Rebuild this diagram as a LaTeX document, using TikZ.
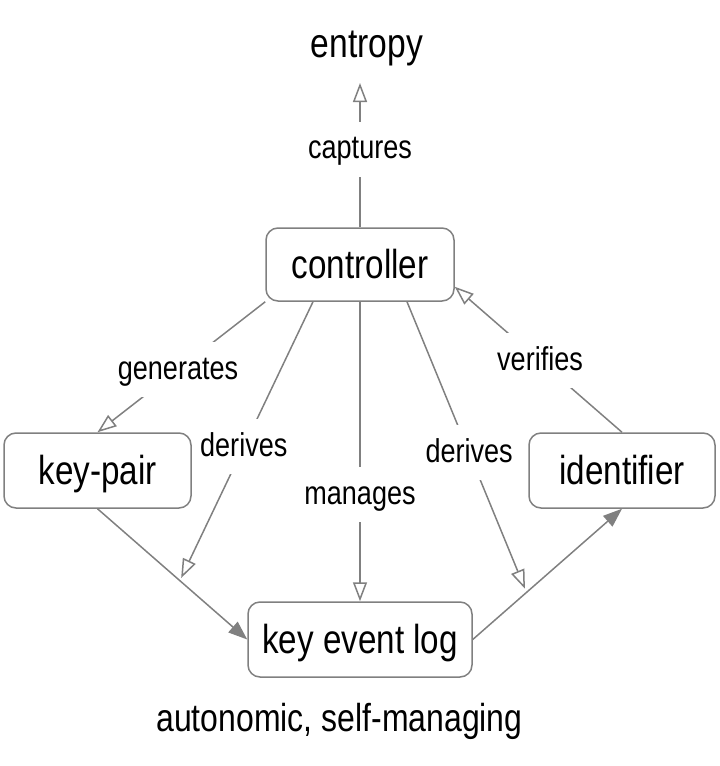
\documentclass[tikz,border=0pt]{standalone}
\usepackage{fontspec}
\setmainfont{Liberation Sans}
\newfontfamily\narrowsans[FakeStretch=0.82]{Liberation Sans}
\usetikzlibrary{arrows.meta}
\definecolor{edgegray}{RGB}{128,128,128}
\begin{document}
\begin{tikzpicture}[x=1pt,y=-1pt,
  box/.style={draw=edgegray, line width=1.5pt, rounded corners=12pt,
    font=\narrowsans\fontsize{40.5}{46}\selectfont, inner sep=0pt,
    text height=34pt, text depth=6pt},
  lbl/.style={fill=white, font=\narrowsans\fontsize{33}{38}\selectfont,
    inner xsep=6pt, inner ysep=12pt, text height=25pt, text depth=6pt},
  conn/.style={draw=edgegray, line width=1.5pt},
  opentip/.style={conn, -{Triangle[open, length=19pt, width=14pt, fill=white]}},
  filltip/.style={conn, -{Triangle[length=19pt, width=14pt, fill=edgegray]}}]
\useasboundingbox (0,0) rectangle (720,766);

\node[box, minimum width=188pt, minimum height=73pt] (ctrl) at (360,264.5) {controller};
\node[box, minimum width=187pt, minimum height=75pt] (kp) at (97.5,470.5) {key-pair};
\node[box, minimum width=186pt, minimum height=75pt] (id) at (622,470.5) {identifier};
\node[box, minimum width=224pt, minimum height=75pt] (kel) at (360,639.5) {key event log};
\node[font=\narrowsans\fontsize{41}{46}\selectfont, inner sep=0pt, outer ysep=17pt, anchor=base] (entropy) at (367,57.5) {entropy};
\node[font=\narrowsans\fontsize{39}{44}\selectfont, inner sep=0pt, anchor=base] (caption) at (339.5,731.5) {autonomic, self-managing};

\path (kp.south) -- (kel.west) coordinate[pos=0.55] (ldtip);
\path (kel.east) -- (id.south) coordinate[pos=0.36] (rdtip);

\draw[opentip] (ctrl.north) -- node[lbl, pos=0.54] {captures} (ctrl.north |- entropy.south);
\draw[opentip] (ctrl.south west) -- node[lbl, pos=0.52] {generates} (kp.north);
\draw[opentip, shorten >=3pt] ([xshift=-47pt]ctrl.south) -- node[lbl, pos=0.52] {derives} (ldtip);
\draw[opentip] (ctrl.south) -- node[lbl, pos=0.645] {manages} (kel.north);
\draw[opentip, shorten >=4pt] ([xshift=47pt]ctrl.south) -- node[lbl, pos=0.52] {derives} (rdtip);
\draw[opentip] (id.north) -- node[lbl, pos=0.49] {verifies} ([yshift=15pt]ctrl.south east);
\draw[filltip] (kp.south) -- (kel.west);
\draw[filltip] (kel.east) -- (id.south);
\end{tikzpicture}
\end{document}
